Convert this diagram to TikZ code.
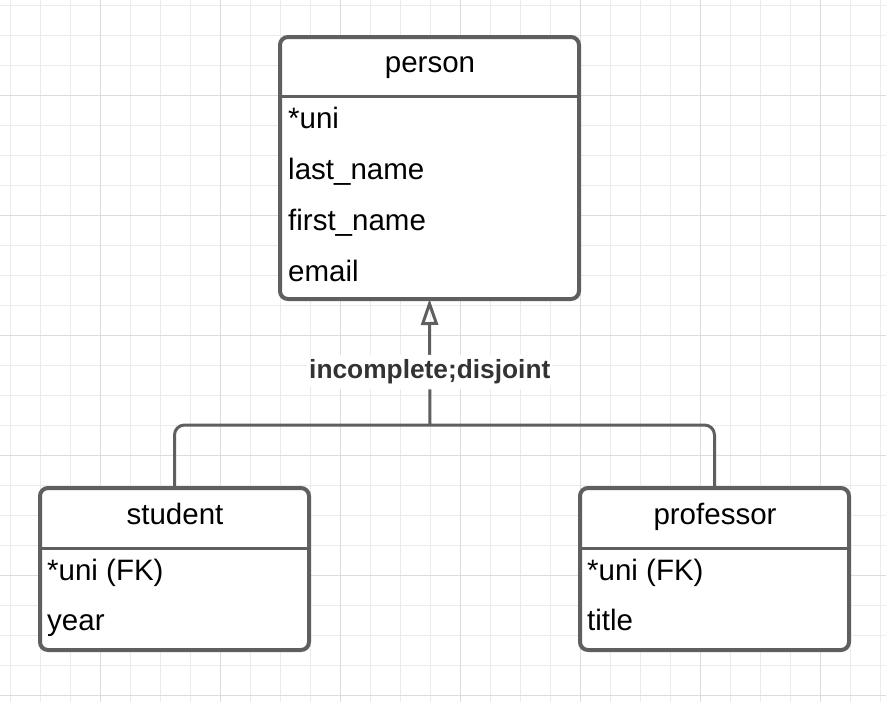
\documentclass[tikz,border=0pt]{standalone}
\usepackage{fontspec}
\setmainfont{Liberation Sans}
\usetikzlibrary{arrows.meta,calc}
\definecolor{gridminor}{HTML}{EBEBEB}
\definecolor{gridmajor}{HTML}{DCDCDC}
\definecolor{boxline}{HTML}{5F5F5F}
\definecolor{labeltext}{HTML}{333333}
\begin{document}
\begin{tikzpicture}[x=1pt,y=-1pt,
  entity/.style={draw=boxline, line width=4pt, rounded corners=8pt, fill=white, anchor=north west, inner sep=0pt, outer sep=0pt},
  divider/.style={draw=boxline, line width=3pt},
  titletext/.style={anchor=base, font=\fontsize{29.5}{34}\selectfont, inner sep=0pt},
  attrtext/.style={anchor=base west, font=\fontsize{29.5}{34}\selectfont, inner sep=0pt},
  conn/.style={draw=boxline, line width=3pt, rounded corners=10pt},
  lbl/.style={font=\bfseries\fontsize{26.3}{30}\selectfont, text=labeltext, fill=white, inner xsep=2pt, inner ysep=5pt}
]
\useasboundingbox (0,0) rectangle (886,702);
\fill[white] (0,0) rectangle (886,702);
\foreach \i in {0,...,29} \draw[gridminor, line width=1pt] ({10+30*\i},0) -- ({10+30*\i},702);
\foreach \j in {0,...,23} \draw[gridminor, line width=1pt] (0,{5+30*\j}) -- (886,{5+30*\j});
\foreach \i in {0,...,6} \draw[gridmajor, line width=1pt] ({100+120*\i},0) -- ({100+120*\i},702);
\foreach \j in {0,...,5} \draw[gridmajor, line width=1pt] (0,{95+120*\j}) -- (886,{95+120*\j});

% person
\node[entity, minimum width=299pt, minimum height=262pt] (person) at (280,37) {};
\draw[divider] ($(person.north west)+(0,59)$) -- ($(person.north east)+(0,59)$);
\node[titletext] (personT) at (430,72) {person};
\node[attrtext] (personA1) at (288,128) {*uni};
\node[attrtext] (personA2) at (288,179) {last\_name};
\node[attrtext] (personA3) at (288,230) {first\_name};
\node[attrtext] (personA4) at (288,281) {email};

% student
\node[entity, minimum width=269pt, minimum height=162pt] (student) at (40,488) {};
\draw[divider] ($(student.north west)+(0,60)$) -- ($(student.north east)+(0,60)$);
\node[titletext] (studentT) at (175,524) {student};
\node[attrtext] (studentA1) at (47,580) {*uni (FK)};
\node[attrtext] (studentA2) at (47,630) {year};

% professor
\node[entity, minimum width=269pt, minimum height=162pt] (professor) at (580,488) {};
\draw[divider] ($(professor.north west)+(0,60)$) -- ($(professor.north east)+(0,60)$);
\node[titletext] (professorT) at (715,524) {professor};
\node[attrtext] (professorA1) at (587,580) {*uni (FK)};
\node[attrtext] (professorA2) at (587,630) {title};

% connectors
\coordinate (hub) at (430,425);
\draw[conn] (student.north) |- (hub) -| (professor.north);
\draw[conn, -{Triangle[open, length=26pt, width=17pt, line width=3pt]}] (hub) -- (person.south)
  node[lbl, pos=0.444, yshift=-3pt] (gen) {incomplete;disjoint};
\end{tikzpicture}
\end{document}
